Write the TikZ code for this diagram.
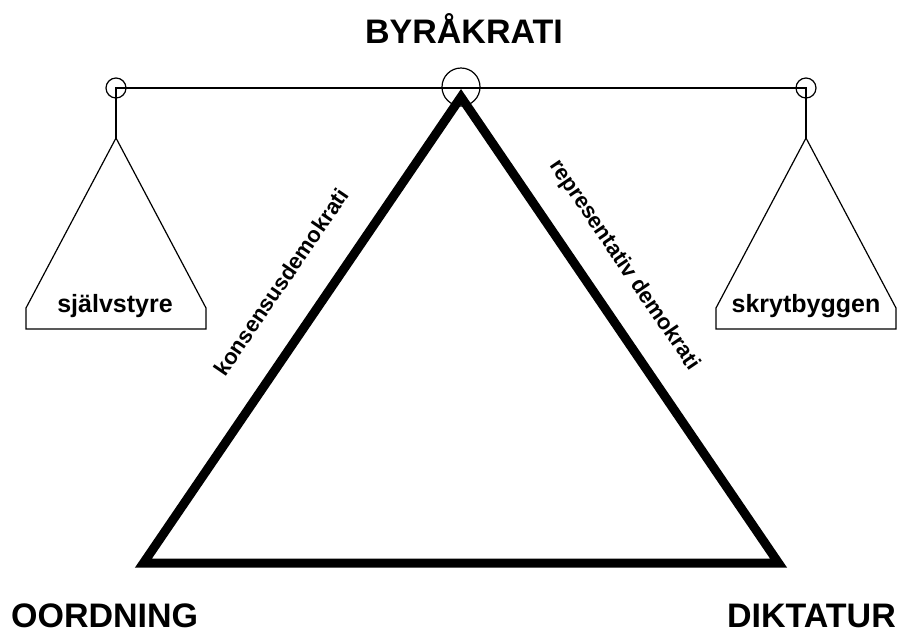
\documentclass[tikz,border=0pt]{standalone}
\usepackage{fontspec}
\setmainfont{Liberation Sans}
\begin{document}
\begin{tikzpicture}[x=1pt,y=-1pt,
  thin line/.style={line width=1.2pt, line join=miter},
  big label/.style={font=\bfseries\fontsize{34}{38}\selectfont, inner sep=0pt},
  side label/.style={font=\bfseries\fontsize{22}{26}\selectfont, inner sep=0pt},
  pan label/.style={font=\bfseries\fontsize{25}{29}\selectfont, inner sep=0pt, anchor=base}]
\useasboundingbox (0,0) rectangle (902,633);
% beam and hooks
\coordinate (lh) at (116,88);
\coordinate (rh) at (806,88);
\coordinate (lp) at (116,138);
\coordinate (rp) at (806,138);
\draw[thin line] (lp) -- (lh) -- (rh) -- (rp);
\draw[thin line] (lh) circle (10);
\draw[thin line] (rh) circle (10);
\draw[thin line] (461,87) circle (19);
% pans
\draw[thin line] (lp) -- (26,308) -- (26,329) -- (206,329) -- (206,308) -- cycle;
\draw[thin line] (rp) -- (716,308) -- (716,329) -- (896,329) -- (896,308) -- cycle;
% triangle
\coordinate (top) at (461,97);
\coordinate (bl) at (143.5,563);
\coordinate (br) at (778.5,563);
\draw[line width=9pt, line join=miter] (top) -- (bl) -- (br) -- cycle;
% labels
\node[big label, anchor=base] (byr) at (464,43) {BYRÅKRATI};
\node[big label, anchor=base west] (oord) at (11,627) {OORDNING};
\node[big label, anchor=base east] (dikt) at (896,627) {DIKTATUR};
\node[pan label] (sj) at (115,312) {självstyre};
\node[pan label] (sk) at (806,312) {skrytbyggen};
\node[side label, rotate=55.7] (kons) at (281,282) {konsensusdemokrati};
\node[side label, rotate=-55.7] (repr) at (624,265) {representativ demokrati};
\end{tikzpicture}
\end{document}
